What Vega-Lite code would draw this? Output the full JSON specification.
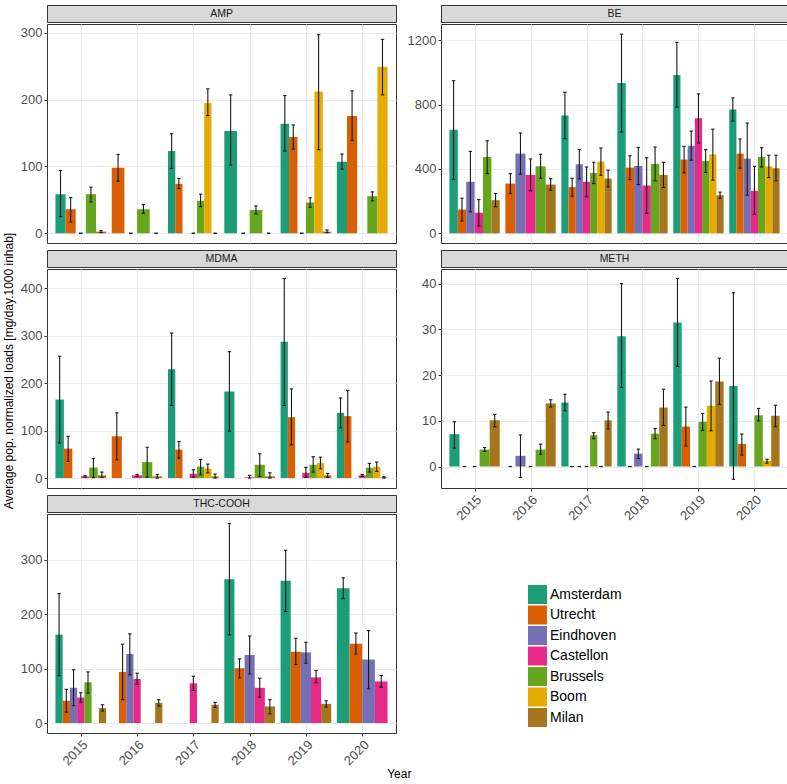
{
"$schema": "https://vega.github.io/schema/vega-lite/v6.json",
"padding": {"left": 2, "top": 4, "right": 2, "bottom": 0},
"autosize": {"type": "pad"},
"background": "white",
"datasets": {"d": [
{"p":"AMP","y":2015,"c":"Amsterdam","v":58.5,"lo":25,"hi":94},
{"p":"AMP","y":2015,"c":"Utrecht","v":36,"lo":17,"hi":53.5},
{"p":"AMP","y":2015,"c":"Eindhoven","v":0,"lo":0,"hi":0},
{"p":"AMP","y":2015,"c":"Brussels","v":58.5,"lo":47,"hi":69},
{"p":"AMP","y":2015,"c":"Milan","v":2.5,"lo":1,"hi":4},
{"p":"AMP","y":2016,"c":"Utrecht","v":98,"lo":78,"hi":118},
{"p":"AMP","y":2016,"c":"Eindhoven","v":0,"lo":0,"hi":0},
{"p":"AMP","y":2016,"c":"Brussels","v":36,"lo":30,"hi":43},
{"p":"AMP","y":2016,"c":"Milan","v":0,"lo":0,"hi":0},
{"p":"AMP","y":2017,"c":"Amsterdam","v":123,"lo":97,"hi":149},
{"p":"AMP","y":2017,"c":"Utrecht","v":74,"lo":67,"hi":82},
{"p":"AMP","y":2017,"c":"Eindhoven","v":null,"lo":null,"hi":null},
{"p":"AMP","y":2017,"c":"Castellon","v":0,"lo":0,"hi":0},
{"p":"AMP","y":2017,"c":"Brussels","v":48.6,"lo":40,"hi":58.5},
{"p":"AMP","y":2017,"c":"Boom","v":195,"lo":176,"hi":216},
{"p":"AMP","y":2017,"c":"Milan","v":0,"lo":0,"hi":0},
{"p":"AMP","y":2018,"c":"Amsterdam","v":153,"lo":102,"hi":207},
{"p":"AMP","y":2018,"c":"Eindhoven","v":0,"lo":0,"hi":0},
{"p":"AMP","y":2018,"c":"Brussels","v":35,"lo":29,"hi":41},
{"p":"AMP","y":2018,"c":"Milan","v":0,"lo":0,"hi":0},
{"p":"AMP","y":2019,"c":"Amsterdam","v":164,"lo":123,"hi":206},
{"p":"AMP","y":2019,"c":"Utrecht","v":144,"lo":126,"hi":162},
{"p":"AMP","y":2019,"c":"Castellon","v":0,"lo":0,"hi":0},
{"p":"AMP","y":2019,"c":"Brussels","v":46,"lo":39,"hi":53},
{"p":"AMP","y":2019,"c":"Boom","v":212,"lo":125,"hi":297},
{"p":"AMP","y":2019,"c":"Milan","v":2.5,"lo":1,"hi":5},
{"p":"AMP","y":2020,"c":"Amsterdam","v":107,"lo":96,"hi":118.5},
{"p":"AMP","y":2020,"c":"Utrecht","v":175.5,"lo":139,"hi":213},
{"p":"AMP","y":2020,"c":"Castellon","v":null,"lo":null,"hi":null},
{"p":"AMP","y":2020,"c":"Brussels","v":55.5,"lo":48.6,"hi":62},
{"p":"AMP","y":2020,"c":"Boom","v":249,"lo":207,"hi":290},
{"p":"BE","y":2015,"c":"Amsterdam","v":643,"lo":336,"hi":948},
{"p":"BE","y":2015,"c":"Utrecht","v":148,"lo":76,"hi":218},
{"p":"BE","y":2015,"c":"Eindhoven","v":320,"lo":134,"hi":509},
{"p":"BE","y":2015,"c":"Castellon","v":128,"lo":45,"hi":210},
{"p":"BE","y":2015,"c":"Brussels","v":474,"lo":371,"hi":575},
{"p":"BE","y":2015,"c":"Milan","v":206,"lo":165,"hi":247},
{"p":"BE","y":2016,"c":"Utrecht","v":309,"lo":247,"hi":371},
{"p":"BE","y":2016,"c":"Eindhoven","v":495,"lo":367,"hi":623},
{"p":"BE","y":2016,"c":"Castellon","v":363,"lo":264,"hi":462},
{"p":"BE","y":2016,"c":"Brussels","v":416,"lo":342,"hi":491},
{"p":"BE","y":2016,"c":"Milan","v":303,"lo":268,"hi":340},
{"p":"BE","y":2017,"c":"Amsterdam","v":732,"lo":588,"hi":876},
{"p":"BE","y":2017,"c":"Utrecht","v":287,"lo":231,"hi":342},
{"p":"BE","y":2017,"c":"Eindhoven","v":429,"lo":338,"hi":520},
{"p":"BE","y":2017,"c":"Castellon","v":320,"lo":227,"hi":412},
{"p":"BE","y":2017,"c":"Brussels","v":375,"lo":309,"hi":441},
{"p":"BE","y":2017,"c":"Boom","v":445,"lo":361,"hi":530},
{"p":"BE","y":2017,"c":"Milan","v":340,"lo":289,"hi":392},
{"p":"BE","y":2018,"c":"Amsterdam","v":934,"lo":629,"hi":1237},
{"p":"BE","y":2018,"c":"Utrecht","v":408,"lo":334,"hi":482},
{"p":"BE","y":2018,"c":"Eindhoven","v":419,"lo":303,"hi":534},
{"p":"BE","y":2018,"c":"Castellon","v":297,"lo":124,"hi":470},
{"p":"BE","y":2018,"c":"Brussels","v":431,"lo":326,"hi":536},
{"p":"BE","y":2018,"c":"Milan","v":363,"lo":285,"hi":441},
{"p":"BE","y":2019,"c":"Amsterdam","v":983,"lo":784,"hi":1186},
{"p":"BE","y":2019,"c":"Utrecht","v":458,"lo":375,"hi":540},
{"p":"BE","y":2019,"c":"Eindhoven","v":544,"lo":454,"hi":635},
{"p":"BE","y":2019,"c":"Castellon","v":715,"lo":561,"hi":866},
{"p":"BE","y":2019,"c":"Brussels","v":449,"lo":379,"hi":520},
{"p":"BE","y":2019,"c":"Boom","v":491,"lo":330,"hi":647},
{"p":"BE","y":2019,"c":"Milan","v":237,"lo":218,"hi":256},
{"p":"BE","y":2020,"c":"Amsterdam","v":769,"lo":697,"hi":841},
{"p":"BE","y":2020,"c":"Utrecht","v":495,"lo":404,"hi":586},
{"p":"BE","y":2020,"c":"Eindhoven","v":464,"lo":237,"hi":685},
{"p":"BE","y":2020,"c":"Castellon","v":264,"lo":118,"hi":416},
{"p":"BE","y":2020,"c":"Brussels","v":474,"lo":412,"hi":532},
{"p":"BE","y":2020,"c":"Boom","v":416,"lo":346,"hi":485},
{"p":"BE","y":2020,"c":"Milan","v":404,"lo":326,"hi":485},
{"p":"MDMA","y":2015,"c":"Amsterdam","v":165.6,"lo":74,"hi":257},
{"p":"MDMA","y":2015,"c":"Utrecht","v":62,"lo":35,"hi":88},
{"p":"MDMA","y":2015,"c":"Eindhoven","v":null,"lo":null,"hi":null},
{"p":"MDMA","y":2015,"c":"Castellon","v":3.5,"lo":1.5,"hi":5},
{"p":"MDMA","y":2015,"c":"Brussels","v":22,"lo":1,"hi":41},
{"p":"MDMA","y":2015,"c":"Milan","v":5.6,"lo":1.4,"hi":12.6},
{"p":"MDMA","y":2016,"c":"Utrecht","v":88,"lo":38.6,"hi":137.5},
{"p":"MDMA","y":2016,"c":"Eindhoven","v":null,"lo":null,"hi":null},
{"p":"MDMA","y":2016,"c":"Castellon","v":5.6,"lo":3.5,"hi":7.7},
{"p":"MDMA","y":2016,"c":"Brussels","v":33.7,"lo":2,"hi":65},
{"p":"MDMA","y":2016,"c":"Milan","v":3.5,"lo":0,"hi":7},
{"p":"MDMA","y":2017,"c":"Amsterdam","v":229.5,"lo":153,"hi":306},
{"p":"MDMA","y":2017,"c":"Utrecht","v":60,"lo":42,"hi":77},
{"p":"MDMA","y":2017,"c":"Eindhoven","v":null,"lo":null,"hi":null},
{"p":"MDMA","y":2017,"c":"Castellon","v":9,"lo":2,"hi":17.5},
{"p":"MDMA","y":2017,"c":"Brussels","v":24,"lo":7,"hi":39},
{"p":"MDMA","y":2017,"c":"Boom","v":20,"lo":11,"hi":29.5},
{"p":"MDMA","y":2017,"c":"Milan","v":3.5,"lo":0,"hi":8.4},
{"p":"MDMA","y":2018,"c":"Amsterdam","v":182.5,"lo":99,"hi":266.7},
{"p":"MDMA","y":2018,"c":"Eindhoven","v":null,"lo":null,"hi":null},
{"p":"MDMA","y":2018,"c":"Castellon","v":1.4,"lo":0,"hi":5.6},
{"p":"MDMA","y":2018,"c":"Brussels","v":28,"lo":3.5,"hi":51},
{"p":"MDMA","y":2018,"c":"Milan","v":3.5,"lo":0,"hi":11},
{"p":"MDMA","y":2019,"c":"Amsterdam","v":287.7,"lo":153,"hi":421},
{"p":"MDMA","y":2019,"c":"Utrecht","v":128.4,"lo":70,"hi":188},
{"p":"MDMA","y":2019,"c":"Eindhoven","v":null,"lo":null,"hi":null},
{"p":"MDMA","y":2019,"c":"Castellon","v":11,"lo":1.4,"hi":22.5},
{"p":"MDMA","y":2019,"c":"Brussels","v":28,"lo":12.6,"hi":45},
{"p":"MDMA","y":2019,"c":"Boom","v":31.6,"lo":19.6,"hi":44},
{"p":"MDMA","y":2019,"c":"Milan","v":5.6,"lo":1.4,"hi":9.8},
{"p":"MDMA","y":2020,"c":"Amsterdam","v":137.5,"lo":106,"hi":169},
{"p":"MDMA","y":2020,"c":"Utrecht","v":130.5,"lo":76,"hi":185},
{"p":"MDMA","y":2020,"c":"Eindhoven","v":null,"lo":null,"hi":null},
{"p":"MDMA","y":2020,"c":"Castellon","v":5.6,"lo":3.5,"hi":7.7},
{"p":"MDMA","y":2020,"c":"Brussels","v":21.8,"lo":12.6,"hi":31},
{"p":"MDMA","y":2020,"c":"Boom","v":24,"lo":14,"hi":33.7},
{"p":"MDMA","y":2020,"c":"Milan","v":1.4,"lo":0,"hi":2.8},
{"p":"METH","y":2015,"c":"Amsterdam","v":7.07,"lo":4.0,"hi":9.8},
{"p":"METH","y":2015,"c":"Utrecht","v":0,"lo":0,"hi":0},
{"p":"METH","y":2015,"c":"Eindhoven","v":0,"lo":0,"hi":0},
{"p":"METH","y":2015,"c":"Brussels","v":3.7,"lo":3.3,"hi":4.15},
{"p":"METH","y":2015,"c":"Milan","v":10.1,"lo":8.7,"hi":11.4},
{"p":"METH","y":2016,"c":"Utrecht","v":0,"lo":0,"hi":0},
{"p":"METH","y":2016,"c":"Eindhoven","v":2.33,"lo":-2.4,"hi":6.9},
{"p":"METH","y":2016,"c":"Castellon","v":0,"lo":0,"hi":0},
{"p":"METH","y":2016,"c":"Brussels","v":3.7,"lo":2.7,"hi":4.9},
{"p":"METH","y":2016,"c":"Milan","v":13.8,"lo":13,"hi":14.6},
{"p":"METH","y":2017,"c":"Amsterdam","v":14.0,"lo":12.2,"hi":15.8},
{"p":"METH","y":2017,"c":"Utrecht","v":0,"lo":0,"hi":0},
{"p":"METH","y":2017,"c":"Eindhoven","v":0,"lo":0,"hi":0},
{"p":"METH","y":2017,"c":"Castellon","v":0,"lo":0,"hi":0},
{"p":"METH","y":2017,"c":"Brussels","v":6.85,"lo":6.1,"hi":7.4},
{"p":"METH","y":2017,"c":"Boom","v":0,"lo":0,"hi":0},
{"p":"METH","y":2017,"c":"Milan","v":10.1,"lo":8.2,"hi":11.9},
{"p":"METH","y":2018,"c":"Amsterdam","v":28.5,"lo":17.3,"hi":40},
{"p":"METH","y":2018,"c":"Utrecht","v":0,"lo":0,"hi":0},
{"p":"METH","y":2018,"c":"Eindhoven","v":2.8,"lo":1.75,"hi":3.8},
{"p":"METH","y":2018,"c":"Castellon","v":0,"lo":0,"hi":0},
{"p":"METH","y":2018,"c":"Brussels","v":7.2,"lo":6.1,"hi":8.3},
{"p":"METH","y":2018,"c":"Milan","v":12.9,"lo":9.0,"hi":16.9},
{"p":"METH","y":2019,"c":"Amsterdam","v":31.5,"lo":21.9,"hi":41.1},
{"p":"METH","y":2019,"c":"Utrecht","v":8.74,"lo":4.5,"hi":13.0},
{"p":"METH","y":2019,"c":"Castellon","v":0,"lo":0,"hi":0},
{"p":"METH","y":2019,"c":"Brussels","v":9.76,"lo":7.9,"hi":11.6},
{"p":"METH","y":2019,"c":"Boom","v":13.3,"lo":7.8,"hi":18.7},
{"p":"METH","y":2019,"c":"Milan","v":18.6,"lo":13.6,"hi":23.7},
{"p":"METH","y":2020,"c":"Amsterdam","v":17.6,"lo":-2.8,"hi":38.0},
{"p":"METH","y":2020,"c":"Utrecht","v":4.95,"lo":2.5,"hi":7.1},
{"p":"METH","y":2020,"c":"Eindhoven","v":null,"lo":null,"hi":null},
{"p":"METH","y":2020,"c":"Brussels","v":11.2,"lo":10,"hi":12.7},
{"p":"METH","y":2020,"c":"Boom","v":1.24,"lo":0.73,"hi":1.6},
{"p":"METH","y":2020,"c":"Milan","v":11.1,"lo":8.7,"hi":13.4},
{"p":"THC-COOH","y":2015,"c":"Amsterdam","v":162.5,"lo":87,"hi":238},
{"p":"THC-COOH","y":2015,"c":"Utrecht","v":41,"lo":20,"hi":62},
{"p":"THC-COOH","y":2015,"c":"Eindhoven","v":64.8,"lo":32,"hi":98},
{"p":"THC-COOH","y":2015,"c":"Castellon","v":47,"lo":38.5,"hi":55.6},
{"p":"THC-COOH","y":2015,"c":"Brussels","v":75,"lo":55,"hi":94},
{"p":"THC-COOH","y":2015,"c":"Boom","v":null,"lo":null,"hi":null},
{"p":"THC-COOH","y":2015,"c":"Milan","v":27.5,"lo":22,"hi":33.6},
{"p":"THC-COOH","y":2016,"c":"Amsterdam","v":null,"lo":null,"hi":null},
{"p":"THC-COOH","y":2016,"c":"Utrecht","v":94,"lo":43,"hi":145},
{"p":"THC-COOH","y":2016,"c":"Eindhoven","v":127,"lo":88.6,"hi":164},
{"p":"THC-COOH","y":2016,"c":"Castellon","v":81,"lo":71,"hi":91.6},
{"p":"THC-COOH","y":2016,"c":"Brussels","v":null,"lo":null,"hi":null},
{"p":"THC-COOH","y":2016,"c":"Boom","v":null,"lo":null,"hi":null},
{"p":"THC-COOH","y":2016,"c":"Milan","v":37,"lo":31,"hi":43},
{"p":"THC-COOH","y":2017,"c":"Amsterdam","v":null,"lo":null,"hi":null},
{"p":"THC-COOH","y":2017,"c":"Utrecht","v":null,"lo":null,"hi":null},
{"p":"THC-COOH","y":2017,"c":"Eindhoven","v":null,"lo":null,"hi":null},
{"p":"THC-COOH","y":2017,"c":"Castellon","v":73,"lo":60,"hi":86},
{"p":"THC-COOH","y":2017,"c":"Brussels","v":null,"lo":null,"hi":null},
{"p":"THC-COOH","y":2017,"c":"Boom","v":null,"lo":null,"hi":null},
{"p":"THC-COOH","y":2017,"c":"Milan","v":33.6,"lo":29,"hi":38},
{"p":"THC-COOH","y":2018,"c":"Amsterdam","v":264.5,"lo":162,"hi":366.5},
{"p":"THC-COOH","y":2018,"c":"Utrecht","v":100.8,"lo":83,"hi":118},
{"p":"THC-COOH","y":2018,"c":"Eindhoven","v":125,"lo":90,"hi":160},
{"p":"THC-COOH","y":2018,"c":"Castellon","v":64.8,"lo":47.6,"hi":82.5},
{"p":"THC-COOH","y":2018,"c":"Milan","v":30.5,"lo":17,"hi":43},
{"p":"THC-COOH","y":2019,"c":"Amsterdam","v":261.5,"lo":205,"hi":317.6},
{"p":"THC-COOH","y":2019,"c":"Utrecht","v":131,"lo":107.5,"hi":155.8},
{"p":"THC-COOH","y":2019,"c":"Eindhoven","v":130,"lo":110,"hi":148.4},
{"p":"THC-COOH","y":2019,"c":"Castellon","v":84,"lo":74,"hi":96.5},
{"p":"THC-COOH","y":2019,"c":"Milan","v":35.4,"lo":29.3,"hi":41},
{"p":"THC-COOH","y":2020,"c":"Amsterdam","v":248,"lo":228.5,"hi":267},
{"p":"THC-COOH","y":2020,"c":"Utrecht","v":146,"lo":127,"hi":165.5},
{"p":"THC-COOH","y":2020,"c":"Eindhoven","v":116.7,"lo":63,"hi":170},
{"p":"THC-COOH","y":2020,"c":"Castellon","v":76.4,"lo":66,"hi":87.4}
]},
"title": {"text": "Year", "orient": "bottom", "anchor": "middle", "fontSize": 12, "fontWeight": "normal", "color": "#000000", "offset": 1, "dx": 4},
"hconcat": [
{"width": 14, "height": 724, "view": {"stroke": null}, "data": {"values": [{"t": "Average pop. normalized loads [mg/day.1000 inhab]"}]}, "mark": {"type": "text", "angle": 270, "fontSize": 12, "color": "#000000", "baseline": "middle", "dx": -4}, "encoding": {"text": {"field": "t"}}},
{"hconcat": [
{"vconcat": [
 {"vconcat": [
  {"width": 349, "height": 17, "view": {"fill": "#d9d9d9", "stroke": "#333333"}, "data": {"values": [{"t": "AMP"}]}, "mark": {"type": "text", "fontSize": 10.5, "color": "#1a1a1a", "baseline": "middle"}, "encoding": {"text": {"field": "t"}}},
  {"width": 349, "height": 219, "data": {"name": "d"},
   "transform": [
    {"filter": "datum.p === 'AMP'"},
    {"calculate": "indexof(['Amsterdam','Utrecht','Eindhoven','Castellon','Brussels','Boom','Milan'], datum.c)", "as": "ord"},
    {"window": [{"op": "row_number", "as": "slot"}, {"op": "count", "as": "n"}], "groupby": ["y"], "sort": [{"field": "ord", "order": "ascending"}], "frame": [null, null]},
    {"calculate": "datum.y - 0.45 + (datum.slot - 1) * 0.9 / datum.n", "as": "xa"},
    {"calculate": "datum.xa + 0.9 / datum.n", "as": "xb"},
    {"calculate": "datum.xa + 0.45 / datum.n", "as": "xc"},
    {"calculate": "datum.xc - 0.03", "as": "ca"},
    {"calculate": "datum.xc + 0.03", "as": "cb"}
   ],
   "layer": [
    {"transform": [{"filter": "isValid(datum.v)"}], "mark": {"type": "bar"},
     "encoding": {
      "x": {"field": "xa", "type": "quantitative", "scale": {"domain": [2014.4, 2020.6], "nice": false, "zero": false}, "axis": {"title": null, "values": [2015, 2016, 2017, 2018, 2019, 2020], "labels": false, "ticks": false, "grid": true}},
      "x2": {"field": "xb"},
      "y": {"field": "v", "type": "quantitative", "scale": {"domain": [-14.5, 313], "nice": false, "zero": false}, "axis": {"title": null, "format": "d", "values": [0, 50, 100, 150, 200, 250, 300], "labelExpr": "datum.value % 100 === 0 ? datum.label : ''", "tickOpacity": {"condition": {"test": "datum.value % 100 === 0", "value": 1}, "value": 0}, "gridWidth": {"condition": {"test": "datum.value % 100 === 0", "value": 1}, "value": 0.5}, "minExtent": 27, "maxExtent": 27}},
      "y2": {"datum": 0},
      "color": {"field": "c", "type": "nominal", "scale": {"domain": ["Amsterdam","Utrecht","Eindhoven","Castellon","Brussels","Boom","Milan"], "range": ["#1b9e77","#d95f02","#7570b3","#e7298a","#66a61e","#e6ab02","#a6761d"]}, "legend": {"orient": "none", "legendX": 526, "legendY": 580, "title": null}}
     }},
    {"transform": [{"filter": "isValid(datum.lo)"}], "mark": {"type": "rule", "color": "#1a1a1a", "strokeWidth": 1.1},
     "encoding": {"x": {"field": "xc", "type": "quantitative"}, "y": {"field": "lo", "type": "quantitative"}, "y2": {"field": "hi"}}},
    {"transform": [{"filter": "isValid(datum.lo)"}], "mark": {"type": "rule", "color": "#1a1a1a", "strokeWidth": 1.1},
     "encoding": {"x": {"field": "ca", "type": "quantitative"}, "x2": {"field": "cb"}, "y": {"field": "lo", "type": "quantitative"}}},
    {"transform": [{"filter": "isValid(datum.hi)"}], "mark": {"type": "rule", "color": "#1a1a1a", "strokeWidth": 1.1},
     "encoding": {"x": {"field": "ca", "type": "quantitative"}, "x2": {"field": "cb"}, "y": {"field": "hi", "type": "quantitative"}}}
   ]}
 ], "spacing": 0},
 {"vconcat": [
  {"width": 349, "height": 17, "view": {"fill": "#d9d9d9", "stroke": "#333333"}, "data": {"values": [{"t": "MDMA"}]}, "mark": {"type": "text", "fontSize": 10.5, "color": "#1a1a1a", "baseline": "middle"}, "encoding": {"text": {"field": "t"}}},
  {"width": 349, "height": 219, "data": {"name": "d"},
   "transform": [
    {"filter": "datum.p === 'MDMA'"},
    {"calculate": "indexof(['Amsterdam','Utrecht','Eindhoven','Castellon','Brussels','Boom','Milan'], datum.c)", "as": "ord"},
    {"window": [{"op": "row_number", "as": "slot"}, {"op": "count", "as": "n"}], "groupby": ["y"], "sort": [{"field": "ord", "order": "ascending"}], "frame": [null, null]},
    {"calculate": "datum.y - 0.45 + (datum.slot - 1) * 0.9 / datum.n", "as": "xa"},
    {"calculate": "datum.xa + 0.9 / datum.n", "as": "xb"},
    {"calculate": "datum.xa + 0.45 / datum.n", "as": "xc"},
    {"calculate": "datum.xc - 0.03", "as": "ca"},
    {"calculate": "datum.xc + 0.03", "as": "cb"}
   ],
   "layer": [
    {"transform": [{"filter": "isValid(datum.v)"}], "mark": {"type": "bar"},
     "encoding": {
      "x": {"field": "xa", "type": "quantitative", "scale": {"domain": [2014.4, 2020.6], "nice": false, "zero": false}, "axis": {"title": null, "values": [2015, 2016, 2017, 2018, 2019, 2020], "labels": false, "ticks": false, "grid": true}},
      "x2": {"field": "xb"},
      "y": {"field": "v", "type": "quantitative", "scale": {"domain": [-21, 441], "nice": false, "zero": false}, "axis": {"title": null, "format": "d", "values": [0, 50, 100, 150, 200, 250, 300, 350, 400], "labelExpr": "datum.value % 100 === 0 ? datum.label : ''", "tickOpacity": {"condition": {"test": "datum.value % 100 === 0", "value": 1}, "value": 0}, "gridWidth": {"condition": {"test": "datum.value % 100 === 0", "value": 1}, "value": 0.5}, "minExtent": 27, "maxExtent": 27}},
      "y2": {"datum": 0},
      "color": {"field": "c", "type": "nominal", "scale": {"domain": ["Amsterdam","Utrecht","Eindhoven","Castellon","Brussels","Boom","Milan"], "range": ["#1b9e77","#d95f02","#7570b3","#e7298a","#66a61e","#e6ab02","#a6761d"]}, "legend": {"orient": "none", "legendX": 526, "legendY": 580, "title": null}}
     }},
    {"transform": [{"filter": "isValid(datum.lo)"}], "mark": {"type": "rule", "color": "#1a1a1a", "strokeWidth": 1.1},
     "encoding": {"x": {"field": "xc", "type": "quantitative"}, "y": {"field": "lo", "type": "quantitative"}, "y2": {"field": "hi"}}},
    {"transform": [{"filter": "isValid(datum.lo)"}], "mark": {"type": "rule", "color": "#1a1a1a", "strokeWidth": 1.1},
     "encoding": {"x": {"field": "ca", "type": "quantitative"}, "x2": {"field": "cb"}, "y": {"field": "lo", "type": "quantitative"}}},
    {"transform": [{"filter": "isValid(datum.hi)"}], "mark": {"type": "rule", "color": "#1a1a1a", "strokeWidth": 1.1},
     "encoding": {"x": {"field": "ca", "type": "quantitative"}, "x2": {"field": "cb"}, "y": {"field": "hi", "type": "quantitative"}}}
   ]}
 ], "spacing": 0},
 {"vconcat": [
  {"width": 349, "height": 17, "view": {"fill": "#d9d9d9", "stroke": "#333333"}, "data": {"values": [{"t": "THC-COOH"}]}, "mark": {"type": "text", "fontSize": 10.5, "color": "#1a1a1a", "baseline": "middle"}, "encoding": {"text": {"field": "t"}}},
  {"width": 349, "height": 219, "data": {"name": "d"},
   "transform": [
    {"filter": "datum.p === 'THC-COOH'"},
    {"calculate": "indexof(['Amsterdam','Utrecht','Eindhoven','Castellon','Brussels','Boom','Milan'], datum.c)", "as": "ord"},
    {"window": [{"op": "row_number", "as": "slot"}, {"op": "count", "as": "n"}], "groupby": ["y"], "sort": [{"field": "ord", "order": "ascending"}], "frame": [null, null]},
    {"calculate": "datum.y - 0.45 + (datum.slot - 1) * 0.9 / datum.n", "as": "xa"},
    {"calculate": "datum.xa + 0.9 / datum.n", "as": "xb"},
    {"calculate": "datum.xa + 0.45 / datum.n", "as": "xc"},
    {"calculate": "datum.xc - 0.03", "as": "ca"},
    {"calculate": "datum.xc + 0.03", "as": "cb"}
   ],
   "layer": [
    {"transform": [{"filter": "isValid(datum.v)"}], "mark": {"type": "bar"},
     "encoding": {
      "x": {"field": "xa", "type": "quantitative", "scale": {"domain": [2014.4, 2020.6], "nice": false, "zero": false}, "axis": {"title": null, "values": [2015, 2016, 2017, 2018, 2019, 2020], "format": "d", "labelAngle": -45, "labelAlign": "right", "labelBaseline": "top", "grid": true}},
      "x2": {"field": "xb"},
      "y": {"field": "v", "type": "quantitative", "scale": {"domain": [-18.3, 384.3], "nice": false, "zero": false}, "axis": {"title": null, "format": "d", "values": [0, 50, 100, 150, 200, 250, 300, 350], "labelExpr": "datum.value % 100 === 0 ? datum.label : ''", "tickOpacity": {"condition": {"test": "datum.value % 100 === 0", "value": 1}, "value": 0}, "gridWidth": {"condition": {"test": "datum.value % 100 === 0", "value": 1}, "value": 0.5}, "minExtent": 27, "maxExtent": 27}},
      "y2": {"datum": 0},
      "color": {"field": "c", "type": "nominal", "scale": {"domain": ["Amsterdam","Utrecht","Eindhoven","Castellon","Brussels","Boom","Milan"], "range": ["#1b9e77","#d95f02","#7570b3","#e7298a","#66a61e","#e6ab02","#a6761d"]}, "legend": {"orient": "none", "legendX": 526, "legendY": 580, "title": null}}
     }},
    {"transform": [{"filter": "isValid(datum.lo)"}], "mark": {"type": "rule", "color": "#1a1a1a", "strokeWidth": 1.1},
     "encoding": {"x": {"field": "xc", "type": "quantitative"}, "y": {"field": "lo", "type": "quantitative"}, "y2": {"field": "hi"}}},
    {"transform": [{"filter": "isValid(datum.lo)"}], "mark": {"type": "rule", "color": "#1a1a1a", "strokeWidth": 1.1},
     "encoding": {"x": {"field": "ca", "type": "quantitative"}, "x2": {"field": "cb"}, "y": {"field": "lo", "type": "quantitative"}}},
    {"transform": [{"filter": "isValid(datum.hi)"}], "mark": {"type": "rule", "color": "#1a1a1a", "strokeWidth": 1.1},
     "encoding": {"x": {"field": "ca", "type": "quantitative"}, "x2": {"field": "cb"}, "y": {"field": "hi", "type": "quantitative"}}}
   ]}
 ], "spacing": 0}
], "spacing": 5},
{"vconcat": [
 {"vconcat": [
  {"width": 347, "height": 17, "view": {"fill": "#d9d9d9", "stroke": "#333333"}, "data": {"values": [{"t": "BE"}]}, "mark": {"type": "text", "fontSize": 10.5, "color": "#1a1a1a", "baseline": "middle"}, "encoding": {"text": {"field": "t"}}},
  {"width": 347, "height": 219, "data": {"name": "d"},
   "transform": [
    {"filter": "datum.p === 'BE'"},
    {"calculate": "indexof(['Amsterdam','Utrecht','Eindhoven','Castellon','Brussels','Boom','Milan'], datum.c)", "as": "ord"},
    {"window": [{"op": "row_number", "as": "slot"}, {"op": "count", "as": "n"}], "groupby": ["y"], "sort": [{"field": "ord", "order": "ascending"}], "frame": [null, null]},
    {"calculate": "datum.y - 0.45 + (datum.slot - 1) * 0.9 / datum.n", "as": "xa"},
    {"calculate": "datum.xa + 0.9 / datum.n", "as": "xb"},
    {"calculate": "datum.xa + 0.45 / datum.n", "as": "xc"},
    {"calculate": "datum.xc - 0.03", "as": "ca"},
    {"calculate": "datum.xc + 0.03", "as": "cb"}
   ],
   "layer": [
    {"transform": [{"filter": "isValid(datum.v)"}], "mark": {"type": "bar"},
     "encoding": {
      "x": {"field": "xa", "type": "quantitative", "scale": {"domain": [2014.4, 2020.6], "nice": false, "zero": false}, "axis": {"title": null, "values": [2015, 2016, 2017, 2018, 2019, 2020], "labels": false, "ticks": false, "grid": true}},
      "x2": {"field": "xb"},
      "y": {"field": "v", "type": "quantitative", "scale": {"domain": [-60, 1300], "nice": false, "zero": false}, "axis": {"title": null, "format": "d", "values": [0, 200, 400, 600, 800, 1000, 1200], "labelExpr": "datum.value % 400 === 0 ? datum.label : ''", "tickOpacity": {"condition": {"test": "datum.value % 400 === 0", "value": 1}, "value": 0}, "gridWidth": {"condition": {"test": "datum.value % 400 === 0", "value": 1}, "value": 0.5}, "minExtent": 36, "maxExtent": 36}},
      "y2": {"datum": 0},
      "color": {"field": "c", "type": "nominal", "scale": {"domain": ["Amsterdam","Utrecht","Eindhoven","Castellon","Brussels","Boom","Milan"], "range": ["#1b9e77","#d95f02","#7570b3","#e7298a","#66a61e","#e6ab02","#a6761d"]}, "legend": {"orient": "none", "legendX": 526, "legendY": 580, "title": null}}
     }},
    {"transform": [{"filter": "isValid(datum.lo)"}], "mark": {"type": "rule", "color": "#1a1a1a", "strokeWidth": 1.1},
     "encoding": {"x": {"field": "xc", "type": "quantitative"}, "y": {"field": "lo", "type": "quantitative"}, "y2": {"field": "hi"}}},
    {"transform": [{"filter": "isValid(datum.lo)"}], "mark": {"type": "rule", "color": "#1a1a1a", "strokeWidth": 1.1},
     "encoding": {"x": {"field": "ca", "type": "quantitative"}, "x2": {"field": "cb"}, "y": {"field": "lo", "type": "quantitative"}}},
    {"transform": [{"filter": "isValid(datum.hi)"}], "mark": {"type": "rule", "color": "#1a1a1a", "strokeWidth": 1.1},
     "encoding": {"x": {"field": "ca", "type": "quantitative"}, "x2": {"field": "cb"}, "y": {"field": "hi", "type": "quantitative"}}}
   ]}
 ], "spacing": 0},
 {"vconcat": [
  {"width": 347, "height": 17, "view": {"fill": "#d9d9d9", "stroke": "#333333"}, "data": {"values": [{"t": "METH"}]}, "mark": {"type": "text", "fontSize": 10.5, "color": "#1a1a1a", "baseline": "middle"}, "encoding": {"text": {"field": "t"}}},
  {"width": 347, "height": 219, "data": {"name": "d"},
   "transform": [
    {"filter": "datum.p === 'METH'"},
    {"calculate": "indexof(['Amsterdam','Utrecht','Eindhoven','Castellon','Brussels','Boom','Milan'], datum.c)", "as": "ord"},
    {"window": [{"op": "row_number", "as": "slot"}, {"op": "count", "as": "n"}], "groupby": ["y"], "sort": [{"field": "ord", "order": "ascending"}], "frame": [null, null]},
    {"calculate": "datum.y - 0.45 + (datum.slot - 1) * 0.9 / datum.n", "as": "xa"},
    {"calculate": "datum.xa + 0.9 / datum.n", "as": "xb"},
    {"calculate": "datum.xa + 0.45 / datum.n", "as": "xc"},
    {"calculate": "datum.xc - 0.03", "as": "ca"},
    {"calculate": "datum.xc + 0.03", "as": "cb"}
   ],
   "layer": [
    {"transform": [{"filter": "isValid(datum.v)"}], "mark": {"type": "bar"},
     "encoding": {
      "x": {"field": "xa", "type": "quantitative", "scale": {"domain": [2014.4, 2020.6], "nice": false, "zero": false}, "axis": {"title": null, "values": [2015, 2016, 2017, 2018, 2019, 2020], "format": "d", "labelAngle": -45, "labelAlign": "right", "labelBaseline": "top", "grid": true}},
      "x2": {"field": "xb"},
      "y": {"field": "v", "type": "quantitative", "scale": {"domain": [-4.7, 43.2], "nice": false, "zero": false}, "axis": {"title": null, "format": "d", "values": [0, 5, 10, 15, 20, 25, 30, 35, 40], "labelExpr": "datum.value % 10 === 0 ? datum.label : ''", "tickOpacity": {"condition": {"test": "datum.value % 10 === 0", "value": 1}, "value": 0}, "gridWidth": {"condition": {"test": "datum.value % 10 === 0", "value": 1}, "value": 0.5}, "minExtent": 36, "maxExtent": 36}},
      "y2": {"datum": 0},
      "color": {"field": "c", "type": "nominal", "scale": {"domain": ["Amsterdam","Utrecht","Eindhoven","Castellon","Brussels","Boom","Milan"], "range": ["#1b9e77","#d95f02","#7570b3","#e7298a","#66a61e","#e6ab02","#a6761d"]}, "legend": {"orient": "none", "legendX": 526, "legendY": 580, "title": null}}
     }},
    {"transform": [{"filter": "isValid(datum.lo)"}], "mark": {"type": "rule", "color": "#1a1a1a", "strokeWidth": 1.1},
     "encoding": {"x": {"field": "xc", "type": "quantitative"}, "y": {"field": "lo", "type": "quantitative"}, "y2": {"field": "hi"}}},
    {"transform": [{"filter": "isValid(datum.lo)"}], "mark": {"type": "rule", "color": "#1a1a1a", "strokeWidth": 1.1},
     "encoding": {"x": {"field": "ca", "type": "quantitative"}, "x2": {"field": "cb"}, "y": {"field": "lo", "type": "quantitative"}}},
    {"transform": [{"filter": "isValid(datum.hi)"}], "mark": {"type": "rule", "color": "#1a1a1a", "strokeWidth": 1.1},
     "encoding": {"x": {"field": "ca", "type": "quantitative"}, "x2": {"field": "cb"}, "y": {"field": "hi", "type": "quantitative"}}}
   ]}
 ], "spacing": 0}
], "spacing": 5}
], "spacing": 7}
],
"spacing": 3,
"config": {
 "font": "Liberation Sans",
 "view": {"stroke": "#333333", "strokeWidth": 1},
 "axis": {"domain": false, "labelFontSize": 13, "labelColor": "#4d4d4d", "tickColor": "#333333", "tickSize": 3, "labelPadding": 2, "gridColor": "#ebebeb"},
 "legend": {"labelFontSize": 14, "labelColor": "#000000", "symbolType": "square", "symbolSize": 361, "symbolStrokeWidth": 0, "symbolOpacity": 1, "rowPadding": 1.5, "labelOffset": 3, "padding": 0}
}
}
